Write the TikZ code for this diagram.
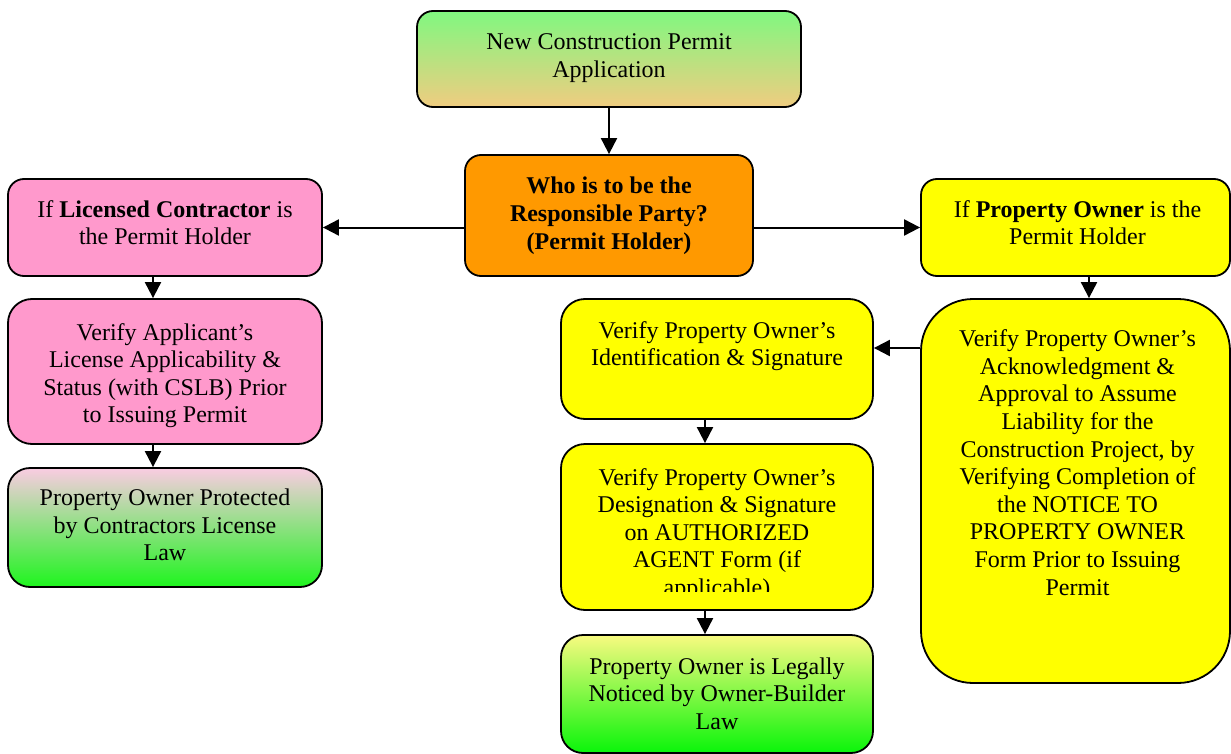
\documentclass[tikz,border=0pt]{standalone}
\usepackage{fontspec}
\setmainfont{Liberation Serif}
\usetikzlibrary{arrows.meta}
\definecolor{pinkbox}{RGB}{255,153,204}
\definecolor{orangebox}{RGB}{255,153,0}
\definecolor{yellowbox}{RGB}{255,255,0}
\definecolor{gtop}{RGB}{128,248,128}
\definecolor{gbot}{RGB}{240,204,128}
\definecolor{ptop}{RGB}{250,204,226}
\definecolor{pmid}{RGB}{200,200,175}
\definecolor{pbot}{RGB}{30,245,30}
\definecolor{ytop}{RGB}{248,250,128}
\definecolor{ybot}{RGB}{10,245,10}
\begin{document}
\begin{tikzpicture}[x=1pt,y=-1pt,
  box/.style={draw=black, line width=1.8pt, rounded corners=16pt, inner sep=0pt, anchor=center},
  txt/.style={align=center, font=\fontsize{24}{27.6}\selectfont, inner sep=0pt, anchor=base},
  arr/.style={line width=2pt, -{Triangle[length=16pt,width=16pt]}}]
\useasboundingbox (0,0) rectangle (1231,754);
% boxes
\node[box, top color=gtop, bottom color=gbot, minimum width=384pt, minimum height=96pt] (top) at (609,59) {};
\node[box, fill=orangebox, minimum width=288pt, minimum height=121pt] (who) at (609,215.5) {};
\node[box, fill=pinkbox, minimum width=314pt, minimum height=97pt] (lc) at (165,227.5) {};
\node[box, fill=pinkbox, rounded corners=24pt, minimum width=314pt, minimum height=145pt] (lv) at (165,371.5) {};
\node[box, top color=ptop, middle color=pmid, bottom color=pbot, rounded corners=22pt, minimum width=314pt, minimum height=119pt] (lp) at (165,527.5) {};
\node[box, fill=yellowbox, minimum width=309pt, minimum height=97pt] (po) at (1075.5,227.5) {};
\node[box, fill=yellowbox, rounded corners=52pt, minimum width=309pt, minimum height=384pt] (pv) at (1075.5,491) {};
\node[box, fill=yellowbox, rounded corners=24pt, minimum width=312pt, minimum height=120pt] (mi) at (717,359) {};
\node[box, fill=yellowbox, rounded corners=24pt, minimum width=312pt, minimum height=166pt] (md) at (717,527) {};
\node[box, top color=ytop, bottom color=ybot, rounded corners=22pt, minimum width=312pt, minimum height=118pt] (mn) at (717,694) {};
% texts (anchor = baseline of last line)
\node[txt] (ttop) at (609,77.6) {New Construction Permit\\Application};
\node[txt, font=\fontsize{24}{27.6}\selectfont\bfseries] (twho) at (609,249.2) {Who is to be the\\Responsible Party?\\(Permit Holder)};
\node[txt] (tlc) at (165,244.9) {If \textbf{Licensed Contractor} is\\the Permit Holder};
\node[txt] (tlv) at (165,422.8) {Verify Applicant’s\\License Applicability \&\\Status (with CSLB) Prior\\to Issuing Permit};
\node[txt] (tlp) at (165,560.9) {Property Owner Protected\\by Contractors License\\Law};
\node[txt] (tpo) at (1077.5,244.9) {If \textbf{Property Owner} is the\\Permit Holder};
\node[txt] (tpv) at (1077.5,595.1) {Verify Property Owner’s\\Acknowledgment \&\\Approval to Assume\\Liability for the\\Construction Project, by\\Verifying Completion of\\the NOTICE TO\\PROPERTY OWNER\\Form Prior to Issuing\\Permit};
\node[txt] (tmi) at (717,365.9) {Verify Property Owner’s\\Identification \& Signature};
\begin{scope}
\clip (561,444) rectangle (873,591.5);
\node[txt] (tmd) at (717,595.4) {Verify Property Owner’s\\Designation \& Signature\\on AUTHORIZED\\AGENT Form (if\\applicable)};
\end{scope}
\node[txt] (tmn) at (717,729.2) {Property Owner is Legally\\Noticed by Owner-Builder\\Law};
% connectors
\draw[arr] (top.south) -- (who.north);
\draw[arr] (who.west |- lc.east) -- (lc.east);
\draw[arr] (who.east |- po.west) -- (po.west);
\draw[arr] ([xshift=-12pt]lc.south) -- ([xshift=-12pt]lv.north);
\draw[arr] ([xshift=-12pt]lv.south) -- ([xshift=-12pt]lp.north);
\draw[arr] ([xshift=13.5pt]po.south) -- ([xshift=13.5pt]pv.north);
\draw[arr] ([yshift=11pt]mi.east -| pv.west) -- ([yshift=11pt]mi.east);
\draw[arr] ([xshift=-12pt]mi.south) -- ([xshift=-12pt]md.north);
\draw[arr] ([xshift=-12pt]md.south) -- ([xshift=-12pt]mn.north);
\end{tikzpicture}
\end{document}
